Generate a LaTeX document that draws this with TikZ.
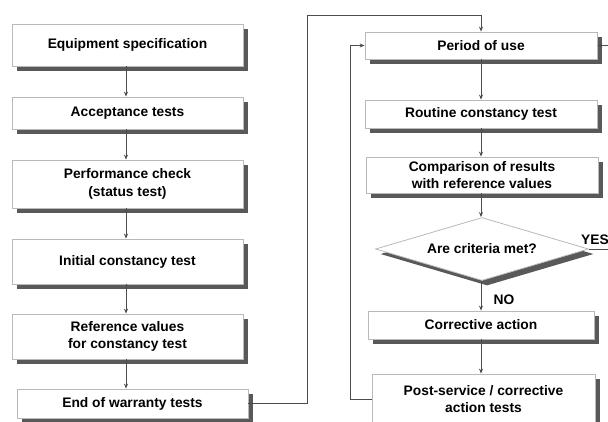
\documentclass[tikz,border=0pt]{standalone}
\usepackage{fontspec}
\setmainfont{Liberation Sans}
\usetikzlibrary{shapes.geometric,shadows,arrows.meta}

\tikzset{
  box/.style={draw=gray!55, line width=0.8pt, fill=white, minimum width=231pt,
    inner sep=0pt, align=center, font=\bfseries\fontsize{13.8}{17.5}\selectfont,
    drop shadow={shadow xshift=5pt, shadow yshift=-5pt, fill=black!65, opacity=1}},
  decision/.style={box, diamond, aspect=3.38, inner sep=0pt},
  link/.style={draw=black!70, line width=0.8pt},
  arr/.style={link, -{Stealth[length=5pt,width=4pt]}},
  lbl/.style={inner sep=0pt, font=\bfseries\fontsize{13.8}{16}\selectfont},
}

\begin{document}
\begin{tikzpicture}[x=1pt,y=-1pt]
\path[use as bounding box] (0,0) rectangle (608,421);
\clip (0,0) rectangle (608,421);

% left column: acceptance and commissioning
\node[box, minimum height=42pt] (eq)   at (127.5,45)    {Equipment specification};
\node[box, minimum height=32pt] (acc)  at (127.5,113)   {Acceptance tests};
\node[box, minimum height=48pt] (perf) at (127.5,184)   {Performance check\\(status test)};
\node[box, minimum height=45pt] (init) at (127.5,261.5) {Initial constancy test};
\node[box, minimum height=45pt] (ref)  at (127.5,336.5) {Reference values\\for constancy test};
\node[box, minimum height=29pt] (eow)  at (132.5,403.5) {End of warranty tests};

% right column: routine use cycle
\node[box, minimum width=232pt, minimum height=27pt] (use)  at (481,45.5) {Period of use};
\node[box, minimum width=232pt, minimum height=28pt] (rout) at (481,114)  {Routine constancy test};
\node[box, minimum width=232pt, minimum height=36pt] (cmp)  at (482,175)  {Comparison of results\\with reference values};
\node[decision, minimum width=213pt, minimum height=63pt] (crit) at (482,249) {Are criteria met?};
\node[box, minimum width=226pt, minimum height=28pt] (corr) at (481,325)  {Corrective action};
\node[box, minimum width=223pt, minimum height=50pt] (post) at (483.5,399) {Post-service / corrective\\action tests};

% guide coordinates for the vertical flow lines
\coordinate (lx) at (126,0);
\coordinate (rx) at (481,0);
\coordinate (topbend) at (307,15);
\coordinate (loopx) at (350,45.5);
\coordinate (yesx) at (615,249);

% left column arrows
\draw[arr] (eq.south -| lx)   -- (acc.north -| lx);
\draw[arr] (acc.south -| lx)  -- (perf.north -| lx);
\draw[arr] (perf.south -| lx) -- (init.north -| lx);
\draw[arr] (init.south -| lx) -- (ref.north -| lx);
\draw[arr] (ref.south -| lx)  -- (eow.north -| lx);

% hand-over to the period of use
\draw[arr] (eow.east) -| (topbend) -| (use.north);

% right column arrows
\draw[arr] (use.south -| rx)  -- (rout.north -| rx);
\draw[arr] (rout.south -| rx) -- (cmp.north -| rx);
\draw[arr] (cmp.south -| rx)  -- (crit.north -| rx);
\draw[arr] (crit.south -| rx) -- (corr.north -| rx);
\draw[arr] (corr.south -| rx) -- (post.north -| rx);

% decision outcomes
\node[lbl, anchor=center] (no) at (504,300) {NO};
\draw[arr] (crit.east) -- (yesx) |- (use.east);
\node[lbl, anchor=base west] (yes) at (581,244) {YES};

% return after corrective action
\draw[arr] (post.west) -| (loopx) -- (use.west);
\end{tikzpicture}
\end{document}
